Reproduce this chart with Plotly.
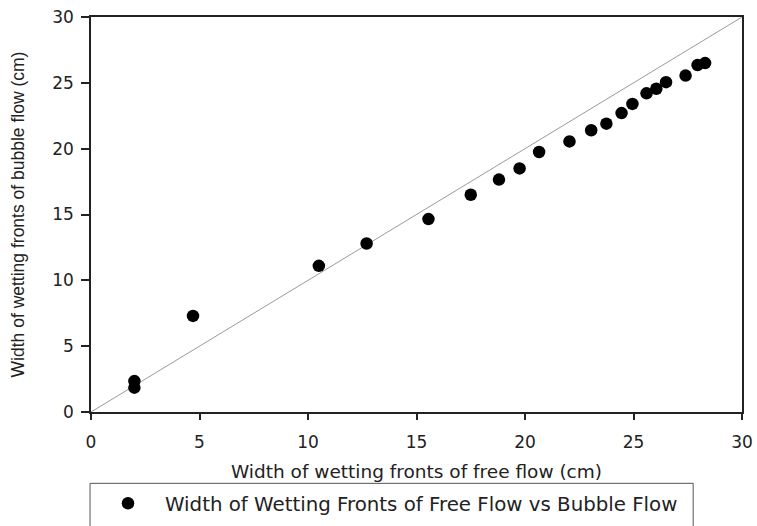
import plotly.graph_objects as go

free_flow = [2.0, 2.0, 4.7, 10.5, 12.7, 15.55, 17.5, 18.8, 19.75, 20.65,
             22.05, 23.05, 23.75, 24.45, 24.95, 25.6, 26.05, 26.5, 27.4, 27.95, 28.3]
bubble_flow = [2.35, 1.85, 7.3, 11.1, 12.8, 14.65, 16.5, 17.65, 18.5, 19.75,
               20.55, 21.4, 21.9, 22.7, 23.4, 24.2, 24.55, 25.05, 25.55, 26.35, 26.5]
ref_line = [0, 30]
tick_vals = [0, 5, 10, 15, 20, 25, 30]

WIDE = "DejaVu Sans, Verdana, sans-serif"
ARIAL = "Liberation Sans, Arial, sans-serif"

fig = go.Figure()
fig.add_trace(go.Scatter(x=ref_line, y=ref_line, mode="lines",
                         line=dict(color="#9a9a9a", width=1),
                         showlegend=False, hoverinfo="skip"))
fig.add_trace(go.Scatter(x=free_flow, y=bubble_flow, mode="markers",
                         name="Width of Wetting Fronts of Free Flow vs Bubble Flow",
                         marker=dict(color="black", size=12.5, symbol="circle")))

fig.update_layout(
    width=757, height=526,
    margin=dict(l=91, r=15, t=17, b=114, autoexpand=False),
    paper_bgcolor="white", plot_bgcolor="white",
    font=dict(family=WIDE, size=17, color="#222"),
    showlegend=True,
    legend=dict(x=0, xanchor="left", y=-0.2313, yanchor="middle",
                itemwidth=64, bgcolor="rgba(0,0,0,0)", borderwidth=0,
                font=dict(family=WIDE, size=19.8, color="#222")),
    xaxis=dict(range=[0, 30], tickvals=tick_vals, showgrid=False, zeroline=False,
               showline=True, linecolor="#222", linewidth=1.5, mirror=True,
               ticks="outside", ticklen=6, tickcolor="#222", tickwidth=1.5,
               ticklabelstandoff=8, automargin=False,
               tickfont=dict(family=WIDE, size=17),
               title=dict(text="Width of wetting fronts of free flow (cm)",
                          font=dict(family=WIDE, size=18.5), standoff=14)),
    yaxis=dict(range=[0, 30], tickvals=tick_vals, showgrid=False, zeroline=False,
               showline=True, linecolor="#222", linewidth=1.5, mirror=True,
               ticks="outside", ticklen=8, tickcolor="#222", tickwidth=1.5,
               ticklabelstandoff=4, automargin=False,
               tickfont=dict(family=WIDE, size=17),
               title=dict(text="Width of wetting fronts of bubble flow (cm)",
                          font=dict(family=ARIAL, size=17.5), standoff=23)),
    shapes=[dict(type="rect", xref="paper", yref="paper",
                 x0=-0.0015, x1=0.925, y0=-0.32, y1=-0.1806,
                 line=dict(color="#555", width=1), fillcolor="rgba(0,0,0,0)")],
)

fig.write_html("out.html")
